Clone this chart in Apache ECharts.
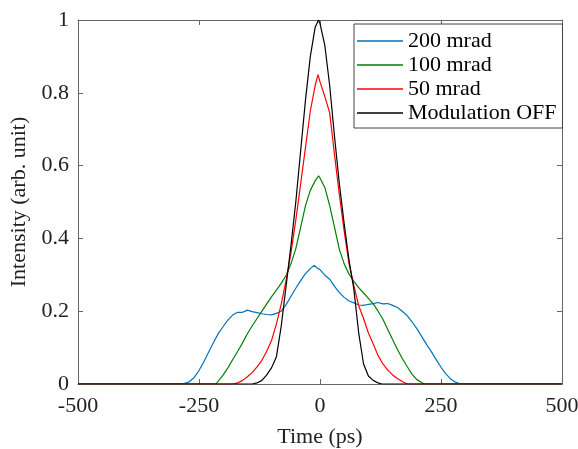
<!DOCTYPE html>
<html>
<head>
<meta charset="utf-8">
<script src="https://cdn.jsdelivr.net/npm/echarts@6/dist/echarts.min.js"></script>
<style>html,body{margin:0;padding:0;background:#fff}#c{width:578px;height:449px}</style>
</head>
<body>
<div id="c"></div>
<script>
// ---- data ----
var seriesNames = ['200 mrad', '100 mrad', '50 mrad', 'Modulation OFF'];
var xTicks = [-500, -250, 0, 250, 500];
var yTicks = [0, 0.2, 0.4, 0.6, 0.8, 1];

var blueT = [-500,-290,-280,-270,-260,-250,-240,-230,-220,-210,-200,-190,-180,-170,-160,-150,-140,-130,-120,-110,-100,-90,-80,-70,-60,-50,-40,-30,-20,-12,-5,0,10,20,30,40,50,60,70,80,90,100,110,120,130,140,150,160,170,180,190,200,210,220,230,240,250,260,270,280,290,500];
var blueY = [0,0,0.002,0.006,0.018,0.037,0.061,0.088,0.114,0.139,0.158,0.176,0.19,0.197,0.197,0.203,0.199,0.196,0.193,0.191,0.19,0.194,0.2,0.218,0.241,0.263,0.284,0.303,0.317,0.326,0.318,0.314,0.299,0.288,0.268,0.251,0.238,0.228,0.223,0.217,0.216,0.219,0.221,0.224,0.22,0.221,0.216,0.21,0.2,0.188,0.171,0.152,0.131,0.109,0.089,0.067,0.046,0.028,0.014,0.005,0,0];

var greenT = [-500,-215,-200,-190,-180,-170,-160,-150,-140,-130,-120,-110,-100,-90,-80,-70,-60,-50,-40,-30,-20,-10,-3,0,10,20,30,40,50,60,70,80,90,100,110,120,130,140,150,160,170,180,190,200,210,216,500];
var greenY = [0,0,0.025,0.045,0.068,0.09,0.113,0.138,0.16,0.18,0.2,0.22,0.24,0.258,0.277,0.298,0.33,0.372,0.43,0.49,0.532,0.558,0.572,0.566,0.54,0.49,0.43,0.37,0.33,0.302,0.282,0.265,0.25,0.235,0.22,0.2,0.178,0.15,0.122,0.095,0.07,0.048,0.027,0.012,0.004,0,0];

var redT = [-500,-180,-170,-160,-150,-140,-130,-120,-110,-100,-90,-80,-70,-60,-50,-40,-30,-20,-10,-4,0,10,20,30,40,50,60,70,80,90,100,110,120,130,140,150,160,170,180,500];
var redY = [0,0,0.003,0.01,0.02,0.032,0.047,0.065,0.09,0.12,0.165,0.22,0.285,0.36,0.45,0.55,0.65,0.75,0.82,0.85,0.83,0.79,0.745,0.63,0.52,0.42,0.33,0.27,0.215,0.18,0.14,0.11,0.078,0.055,0.038,0.025,0.015,0.007,0,0];

var blackT = [-500,-140,-130,-120,-110,-100,-90,-80,-70,-60,-50,-40,-30,-20,-10,-3,0,10,20,30,40,50,60,70,80,90,100,110,120,128,500];
var blackY = [0,0,0.003,0.01,0.025,0.045,0.075,0.16,0.27,0.38,0.5,0.64,0.78,0.9,0.98,1.0,0.99,0.93,0.82,0.68,0.55,0.44,0.34,0.26,0.14,0.055,0.022,0.01,0.003,0,0];

var colors = ['#0072BD', '#008000', '#FF0000', '#000000'];

function pairs(t, y) { return t.map(function (v, i) { return [v, y[i]]; }); }
var allT = [blueT, greenT, redT, blackT];
var allY = [blueY, greenY, redY, blackY];

var FONT = '"Liberation Serif", "Times New Roman", serif';
var AXC = '#666';

var chart = echarts.init(document.getElementById('c'), null, {renderer: 'canvas'});
var common = {
  type: 'value', min: xTicks[0], max: xTicks[xTicks.length - 1], interval: 250,
  splitLine: {show: false},
  axisLine: {show: true, onZero: false, lineStyle: {color: AXC, width: 1}},
  axisTick: {show: true, inside: true, length: 5, lineStyle: {color: AXC}}
};
chart.setOption({
  animation: false,
  backgroundColor: '#fff',
  grid: {left: 78, right: 16, top: 20, bottom: 65, containLabel: false, outerBoundsMode: 'none'},
  legend: {
    orient: 'vertical', left: 354, top: 24,
    data: seriesNames.map(function (n) { return {name: n, icon: 'rect'}; }),
    itemWidth: 46, itemHeight: 1.5, itemGap: 2,
    padding: [6, 6, 4, 3],
    borderColor: '#444', borderWidth: 1, backgroundColor: '#fff',
    textStyle: {fontFamily: FONT, fontSize: 22, color: '#000', lineHeight: 22}
  },
  xAxis: [
    Object.assign({}, common, {
      position: 'bottom', name: 'Time (ps)', nameLocation: 'middle', nameGap: 42,
      nameTextStyle: {fontFamily: FONT, fontSize: 22, color: '#222'},
      axisLabel: {show: true, margin: 11, fontFamily: FONT, fontSize: 22, color: '#222'}
    }),
    Object.assign({}, common, {position: 'top', axisLabel: {show: false}})
  ],
  yAxis: [
    {
      type: 'value', min: 0, max: 1, interval: 0.2, position: 'left',
      name: 'Intensity (arb. unit)', nameLocation: 'middle', nameGap: 41,
      nameTextStyle: {fontFamily: FONT, fontSize: 22, color: '#222'},
      splitLine: {show: false},
      axisLine: {show: true, onZero: false, lineStyle: {color: AXC, width: 1}},
      axisTick: {show: true, inside: true, length: 5, lineStyle: {color: AXC}},
      axisLabel: {show: true, margin: 9, fontFamily: FONT, fontSize: 22, color: '#222'}
    },
    {
      type: 'value', min: 0, max: 1, interval: 0.2, position: 'right',
      splitLine: {show: false},
      axisLine: {show: true, onZero: false, lineStyle: {color: AXC, width: 1}},
      axisTick: {show: true, inside: true, length: 5, lineStyle: {color: AXC}},
      axisLabel: {show: false}
    }
  ],
  series: seriesNames.map(function (n, i) {
    return {
      name: n, type: 'line', xAxisIndex: 0, yAxisIndex: 0,
      data: pairs(allT[i], allY[i]),
      symbol: 'none', smooth: false,
      lineStyle: {color: colors[i], width: 1.2},
      itemStyle: {color: colors[i]},
      z: 2 + i
    };
  })
});
</script>
</body>
</html>
